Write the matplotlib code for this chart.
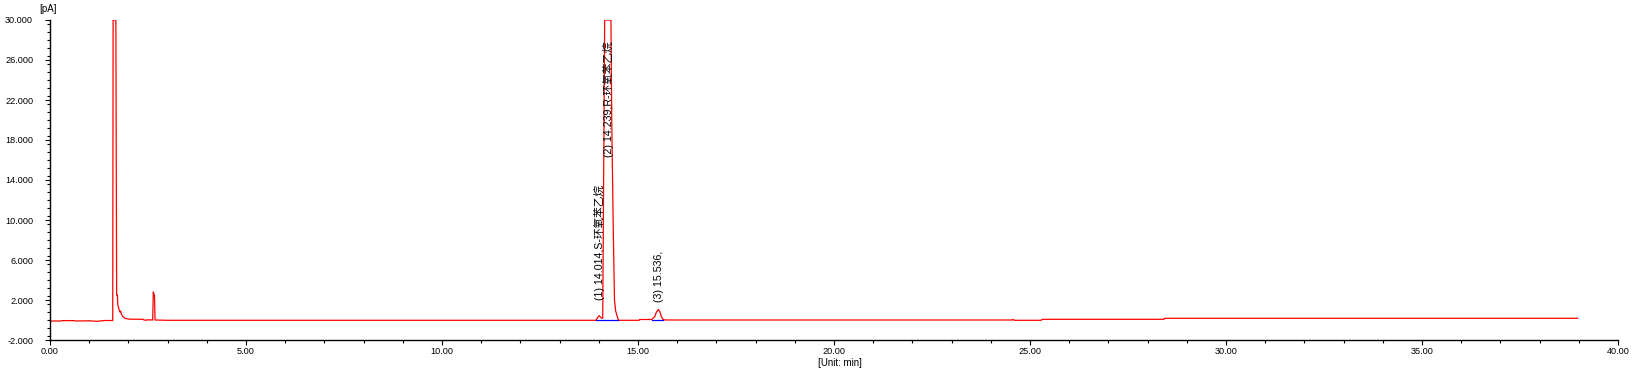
"""GC chromatogram (FID trace) with peak labels, redrawn from the instrument export."""

from matplotlib import pyplot as plt
from matplotlib.ticker import FixedLocator, FormatStrFormatter, MultipleLocator

# trace: time [min], signal [pA]; off-scale peaks are cut at 30
time_min = [
    0.00, 0.28, 0.30, 0.62, 0.64, 1.00, 1.20, 1.40, 1.60,
    1.61, 1.68, 1.70, 1.72, 1.73, 1.76, 1.78, 1.80, 1.82, 1.86, 1.92, 2.04, 2.37, 2.40, 2.45, 2.48,
    2.62, 2.635, 2.65, 2.665, 2.68, 3.00,
    13.93, 13.97, 14.01, 14.05, 14.08, 14.10, 14.15, 14.31, 14.33, 14.37, 14.40, 14.43, 14.46, 14.50, 14.52,
    15.03, 15.04, 15.35, 15.43, 15.47, 15.52, 15.56, 15.60, 15.64, 15.70,
    24.54, 24.57, 24.60, 25.28, 25.30, 25.33, 28.42, 28.43, 38.97,
]
signal_pa = [
    -0.10, -0.10, -0.06, -0.06, -0.10, -0.08, -0.13, -0.05, -0.05,
    30.0, 30.0, 2.5, 2.5, 1.5, 1.1, 0.8, 0.9, 0.6, 0.33, 0.15, 0.08, 0.07, 0.00, -0.03, 0.02,
    0.00, 2.8, 2.6, 2.5, 0.00, -0.03,
    -0.03, 0.25, 0.43, 0.25, 0.17, 0.20, 30.0, 30.0, 20.0, 8.7, 2.0, 0.9, 0.5, 0.00, -0.03,
    -0.03, 0.05, 0.05, 0.35, 0.80, 1.05, 0.80, 0.30, 0.05, 0.00,
    0.00, 0.06, -0.03, -0.03, 0.03, 0.07, 0.07, 0.17, 0.17,
]

# integration baselines (blue)
base_start = [13.93, 15.35]
base_end = [14.50, 15.64]
base_level = [-0.03, 0.05]

# peak labels
peak_rt = [14.014, 14.239, 15.536]
peak_label = ["(1) 14.014,S-环氧苯乙烷", "(2) 14.239,R-环氧苯乙烷", "(3) 15.536,"]
label_y = [2.0, 16.3, 1.8]

y_major = [-2, 2, 6, 10, 14, 18, 22, 26, 30]

DPI = 100
W, H = 1636, 375
TEXT_FONT = ["Liberation Sans", "Noto Sans CJK SC", "DejaVu Sans"]

plt.rcParams["font.family"] = TEXT_FONT

fig = plt.figure(figsize=(W / DPI, H / DPI), dpi=DPI)
ax = fig.add_axes([50 / W, 35 / H, 1568 / W, 320 / H])

ax.plot(time_min, signal_pa, color="#ff0000", lw=0.9, zorder=2)
for t0, t1, lvl in zip(base_start, base_end, base_level):
    ax.plot([t0, t1], [lvl, lvl], color="#0000ff", lw=0.9, zorder=3)

for rt, lab, y in zip(peak_rt, peak_label, label_y):
    ax.text(rt, y, lab, rotation=90, ha="center", va="bottom", fontsize=7.7, color="black")

ax.set_xlim(0, 40)
ax.set_ylim(-2, 30)
ax.xaxis.set_major_locator(MultipleLocator(5))
ax.xaxis.set_minor_locator(MultipleLocator(1))
ax.xaxis.set_major_formatter(FormatStrFormatter("%.2f"))
ax.yaxis.set_major_locator(FixedLocator(y_major))
ax.yaxis.set_minor_locator(MultipleLocator(0.8))
ax.yaxis.set_major_formatter(FormatStrFormatter("%.3f"))

for side in ("top", "right"):
    ax.spines[side].set_visible(False)
for side in ("left", "bottom"):
    ax.spines[side].set_linewidth(1.0)

ax.tick_params(which="major", direction="out", length=3.6, width=0.8, labelsize=6.6)
ax.tick_params(which="minor", direction="out", length=2.2, width=0.8)
ax.tick_params(axis="y", which="major", pad=8.5)
ax.tick_params(axis="x", which="major", pad=1.5)

fig.text(48.5 / W, 1 - 8.5 / H, "[pA]", ha="center", va="center", fontsize=7)
fig.text(840 / W, 1 - 363 / H, "[Unit: min]", ha="center", va="center", fontsize=7)

fig.savefig("out.png", dpi=DPI)
plt.close(fig)
